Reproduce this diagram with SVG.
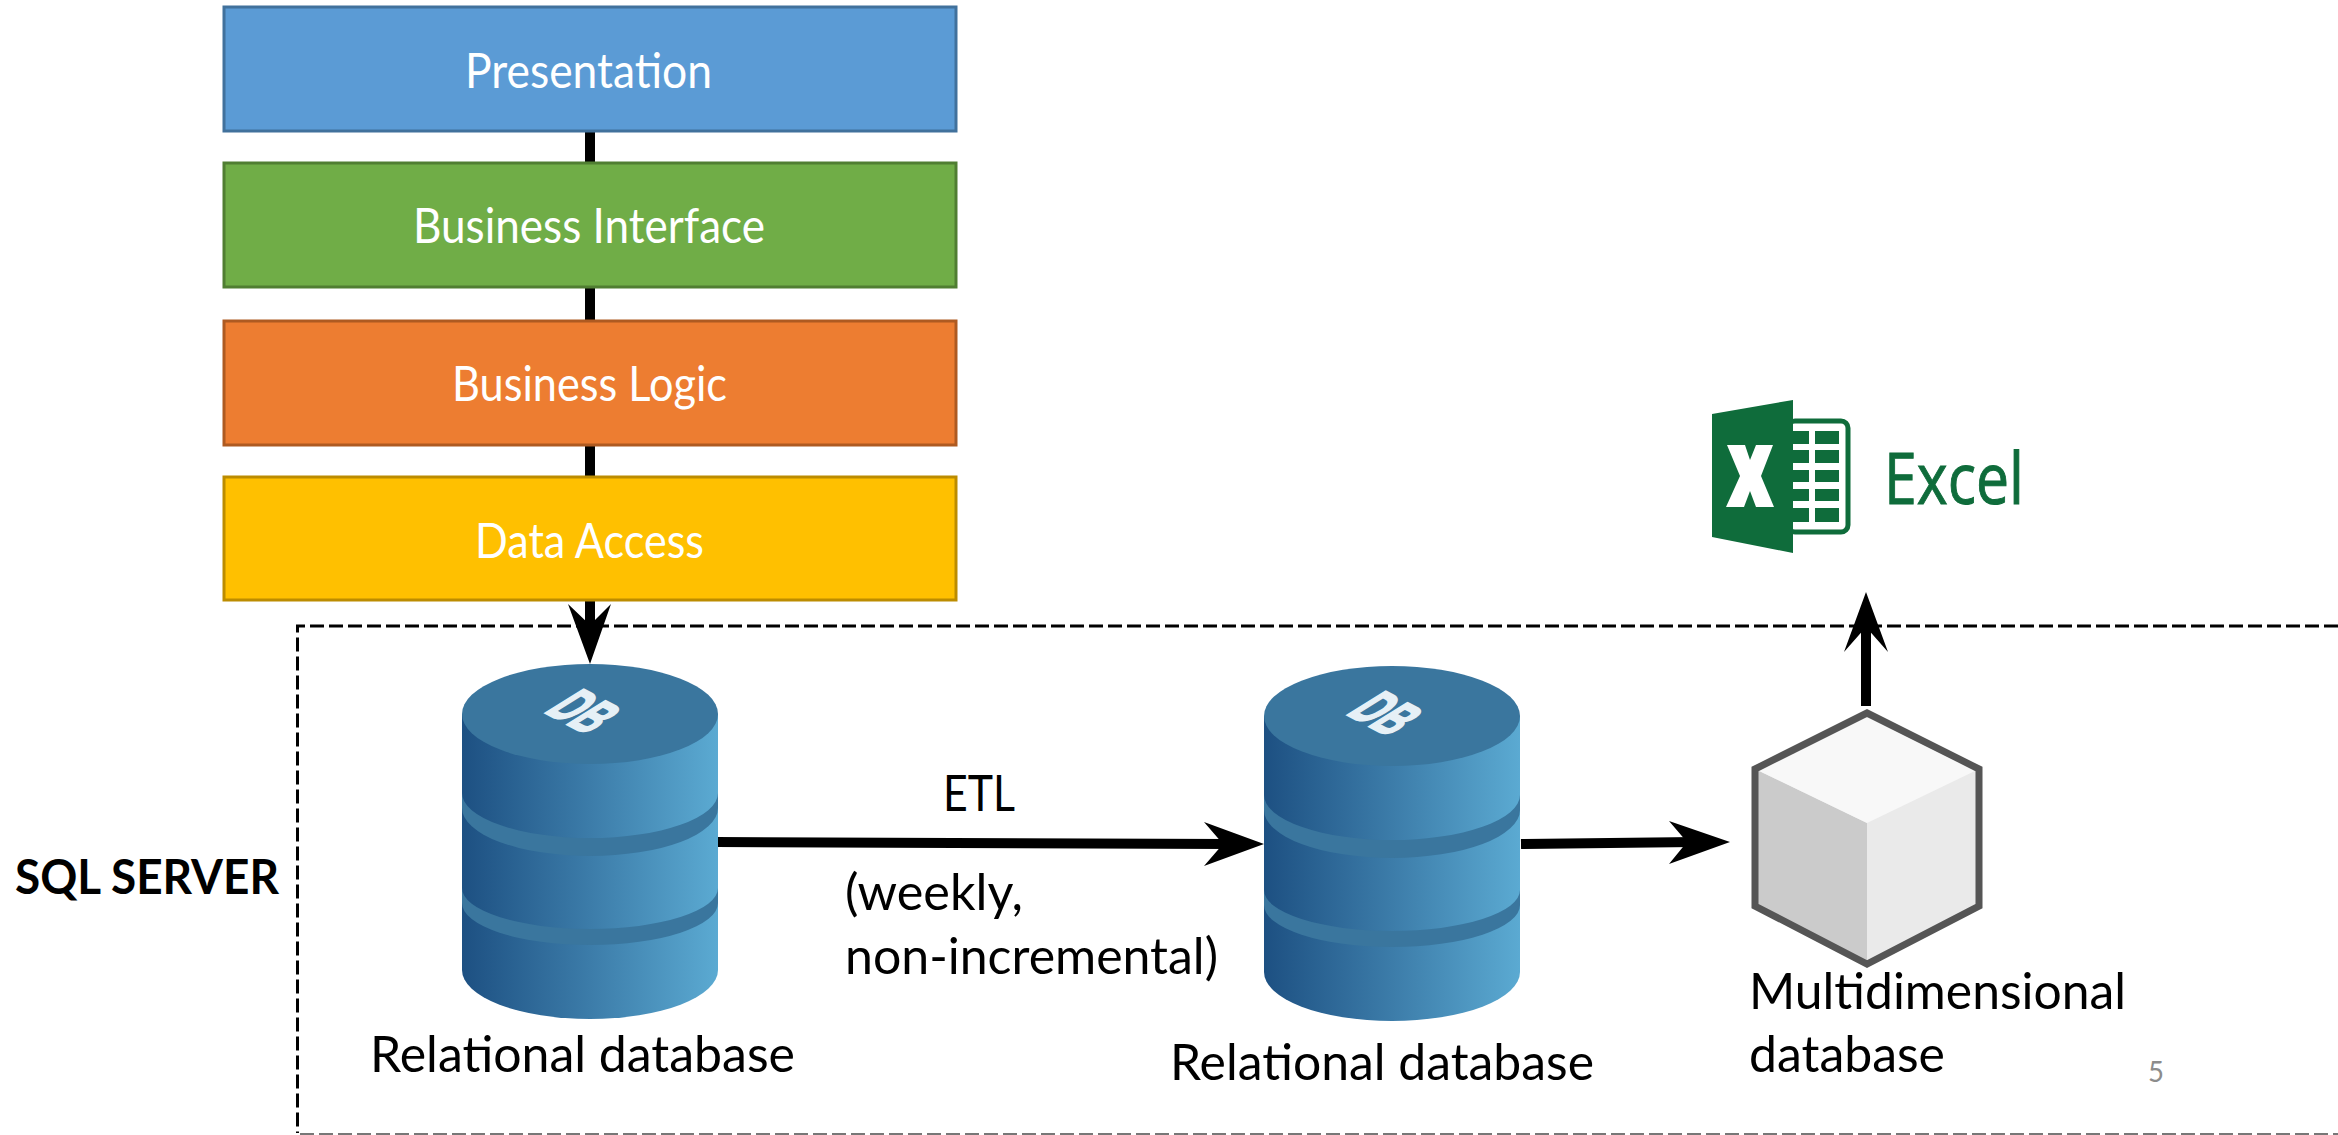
<svg xmlns="http://www.w3.org/2000/svg" width="2338" height="1135" viewBox="0 0 2338 1135">
<style>
text{font-family:"Lato","Open Sans","Liberation Sans",sans-serif}
.lbl{font-size:50px;fill:#000}
.w{font-size:48px;fill:#fff}
.box{stroke-width:3}
.ln{stroke:#000;stroke-width:10;fill:none}
.side{fill:url(#g)}
.top{fill:#3a769e}
.g{fill:#0f6c3b}
</style>
<defs>
<linearGradient id="g" x1="0" x2="1" y1="0" y2="0"><stop offset="0" stop-color="#1d5082"/><stop offset=".5" stop-color="#3c7ca9"/><stop offset="1" stop-color="#5baad2"/></linearGradient>
<g id="db">
<path class="side" d="M-128 50V306A128 49 0 0 0 128 306V50Z"/>
<path class="top" d="M-128 129A128 45 0 0 0 128 129V144A128 48 0 0 1 -128 144Z"/>
<path class="top" d="M-128 224A128 41 0 0 0 128 224V239A128 42 0 0 1 -128 239Z"/>
<ellipse class="top" cx="0" cy="50" rx="128" ry="50"/>
<text transform="matrix(.836 .447 -1.53 .954 -46.7 47.7)" font-size="36" font-weight="700" fill="#e6f0f6" stroke="#e6f0f6" stroke-width="1.5" style="font-family:'Liberation Sans',sans-serif">DB</text>
</g>
</defs>
<g id="sql-server">
<path d="M2338 626H297.5V1133" fill="none" stroke="#000" stroke-width="3" stroke-dasharray="14 5"/>
<path d="M300 1134H2338" fill="none" stroke="#777" stroke-width="2" stroke-dasharray="14 5"/>
<text x="15" y="894" font-size="47" font-weight="700" textLength="264" lengthAdjust="spacingAndGlyphs">SQL SERVER</text>
</g>
<g id="connectors">
<path class="ln" d="M590 131V630"/>
<path class="ln" d="M717 842L1230 844"/>
<path class="ln" d="M1521 844L1695 842"/>
<path class="ln" d="M1866 706V620"/>
<path d="M590 664L568 604L590 625L611 604Z"/>
<path d="M1264 844L1204 822L1223 844L1204 866Z"/>
<path d="M1730 842L1669 821L1687 842L1669 864Z"/>
<path d="M1866 592L1844 652L1866 627L1888 652Z"/>
</g>
<g id="presentation"><rect class="box" x="224" y="7" width="732" height="124" fill="#5b9bd5" stroke="#41719c"/><text class="w" x="465" y="88" textLength="247" lengthAdjust="spacingAndGlyphs">Presentation</text></g>
<g id="business-interface"><rect class="box" x="224" y="163" width="732" height="124" fill="#70ad47" stroke="#507e32"/><text class="w" x="413" y="243" textLength="352" lengthAdjust="spacingAndGlyphs">Business Interface</text></g>
<g id="business-logic"><rect class="box" x="224" y="321" width="732" height="124" fill="#ed7d31" stroke="#ae5a21"/><text class="w" x="452" y="401" textLength="275" lengthAdjust="spacingAndGlyphs">Business Logic</text></g>
<g id="data-access"><rect class="box" x="224" y="477" width="732" height="123" fill="#ffc000" stroke="#bc8c00"/><text class="w" x="475" y="558" textLength="229" lengthAdjust="spacingAndGlyphs">Data Access</text></g>
<g id="db1"><use href="#db" transform="translate(590,664)"/><text class="lbl" x="370" y="1072" textLength="425" lengthAdjust="spacingAndGlyphs">Relational database</text></g>
<g id="db2"><use href="#db" transform="translate(1392,666)"/><text class="lbl" x="1170" y="1080" textLength="424" lengthAdjust="spacingAndGlyphs">Relational database</text></g>
<g id="etl-label"><text class="lbl" x="943" y="811" textLength="72" lengthAdjust="spacingAndGlyphs">ETL</text><text class="lbl" x="845" y="910" textLength="178" lengthAdjust="spacingAndGlyphs">(weekly,</text><text class="lbl" x="845" y="974" textLength="373" lengthAdjust="spacingAndGlyphs">non-incremental)</text></g>
<g id="cube">
<path d="M1867 713L1979 769V906L1867 964L1755 906V769Z" fill="#eaeaea"/>
<path d="M1867 823L1755 769V906L1867 964Z" fill="#cbcbcb"/>
<path d="M1867 713L1979 769L1867 823L1755 769Z" fill="#f8f8f8"/>
<path d="M1867 713L1979 769V906L1867 964L1755 906V769Z" fill="none" stroke="#555" stroke-width="7"/>
<text class="lbl" x="1749" y="1009" textLength="377" lengthAdjust="spacingAndGlyphs">Multidimensional</text>
<text class="lbl" x="1749" y="1072" textLength="196" lengthAdjust="spacingAndGlyphs">database</text>
</g>
<g id="excel">
<rect x="1788" y="421" width="60" height="111" rx="7" fill="#fff" stroke="#0f6c3b" stroke-width="5"/>
<path class="g" d="M1793 431h16v13h-16zM1815 431h24v13h-24zM1793 450h16v13h-16zM1815 450h24v13h-24zM1793 470h16v12h-16zM1815 470h24v12h-24zM1793 489h16v12h-16zM1815 489h24v12h-24zM1793 508h16v14h-16zM1815 508h24v14h-24z"/>
<path class="g" d="M1712 414L1793 400V553L1712 537Z"/>
<path d="M1727 445H1745L1750 460L1756 445H1773L1761 476L1774 507H1756L1750 491L1744 507H1726L1740 476Z" fill="#fff"/>
<text x="1884" y="504" font-size="72" fill="#0f6c3b" stroke="#0f6c3b" stroke-width="1" style="font-family:'Open Sans',sans-serif" textLength="140" lengthAdjust="spacingAndGlyphs">Excel</text>
</g>
<text x="2148" y="1082" font-size="28" fill="#8c8c8c" textLength="16" lengthAdjust="spacingAndGlyphs">5</text>
</svg>
